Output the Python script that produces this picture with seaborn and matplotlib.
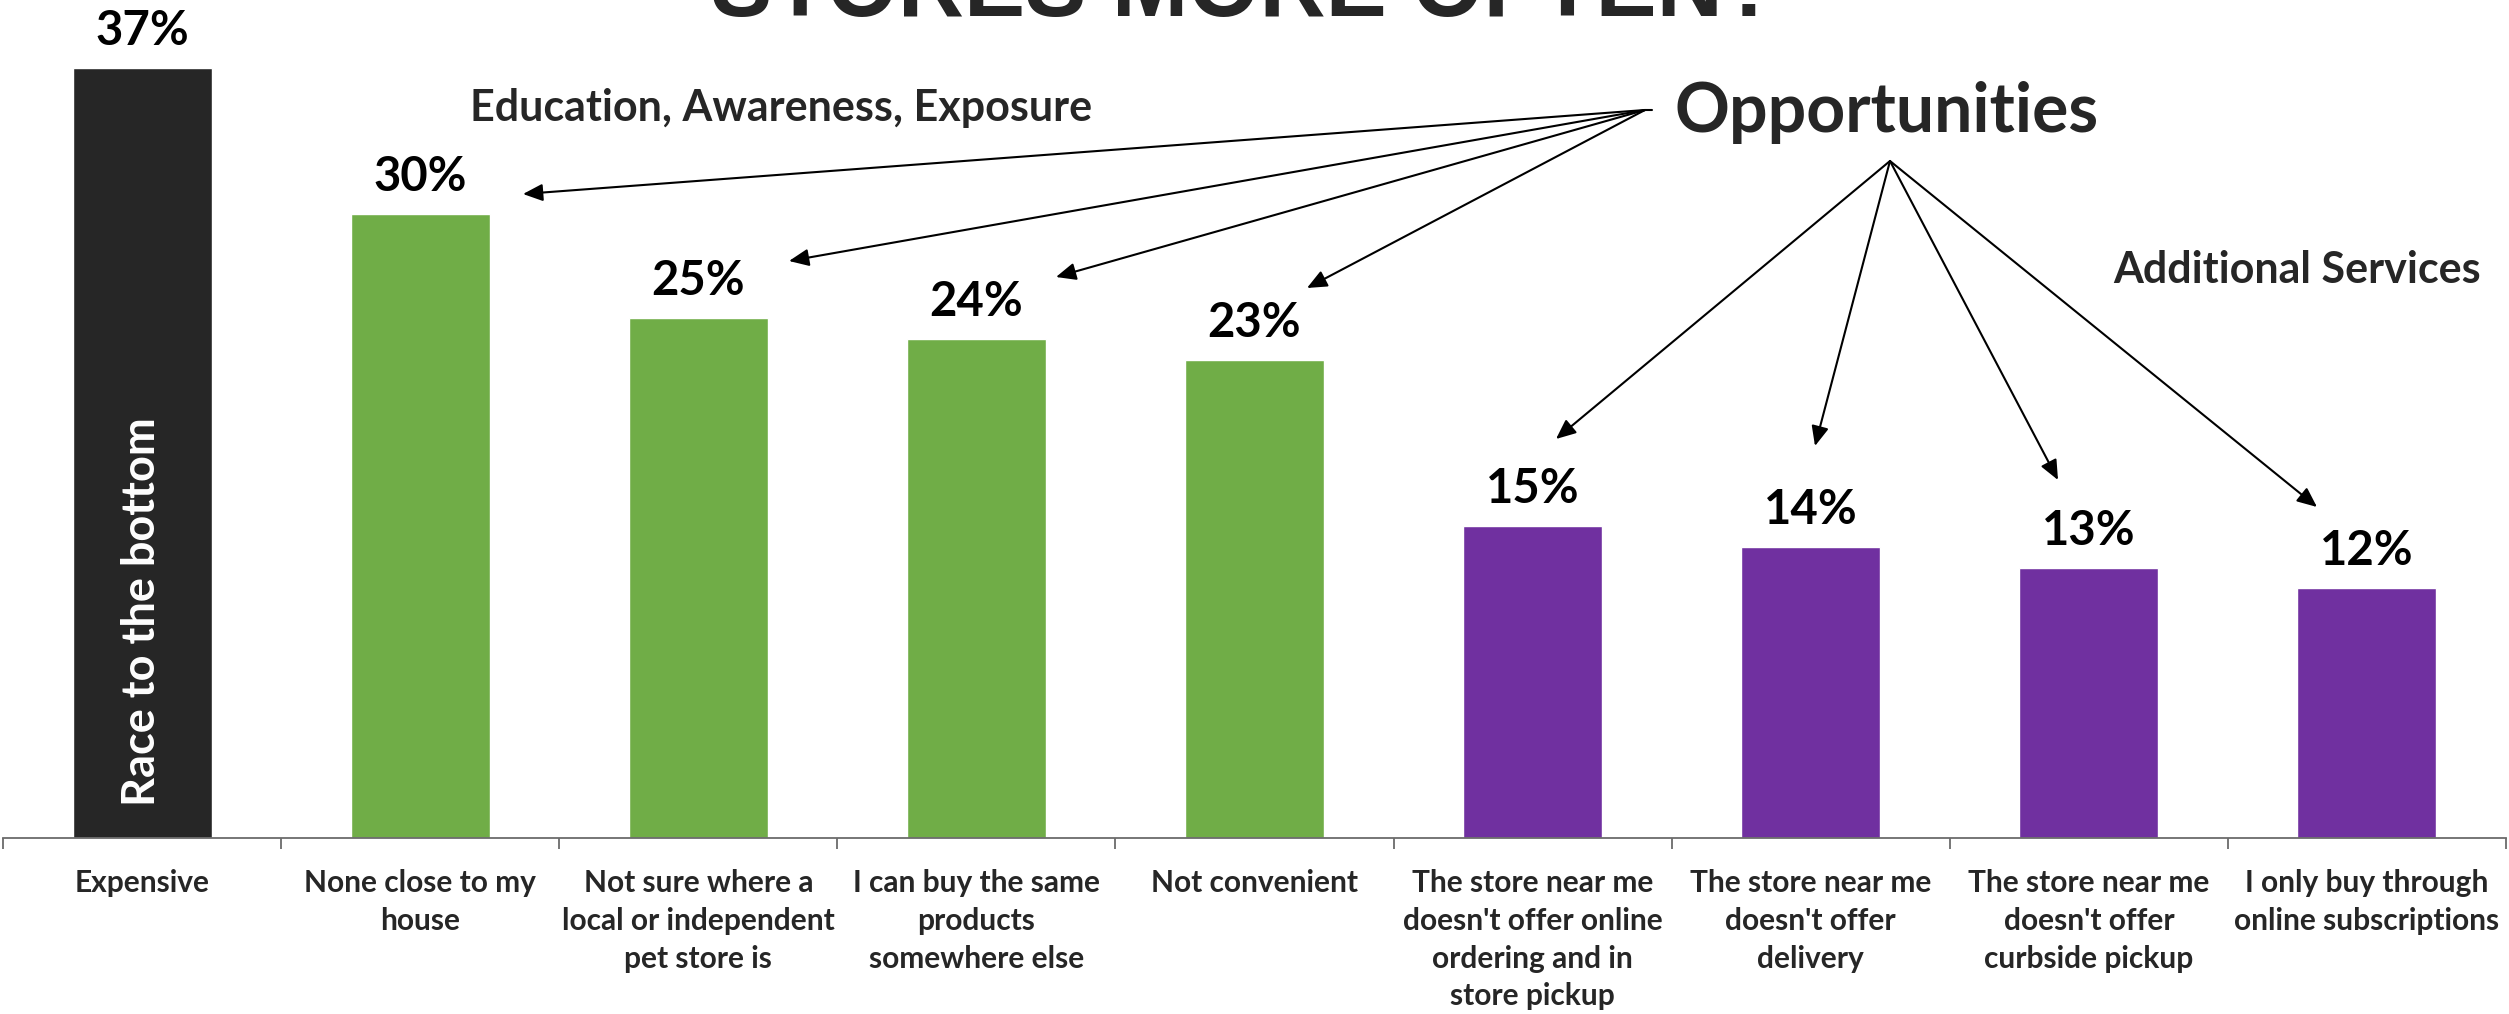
import matplotlib
matplotlib.use("Agg")
import matplotlib.pyplot as plt
import seaborn as sns
import pandas as pd

categories = [
    "Expensive",
    "None close to my\nhouse",
    "Not sure where a\nlocal or independent\npet store is",
    "I can buy the same\nproducts\nsomewhere else",
    "Not convenient",
    "The store near me\ndoesn't offer online\nordering and in\nstore pickup",
    "The store near me\ndoesn't offer\ndelivery",
    "The store near me\ndoesn't offer\ncurbside pickup",
    "I only buy through\nonline subscriptions",
]
values = [37, 30, 25, 24, 23, 15, 14, 13, 12]
value_labels = ["37%", "30%", "25%", "24%", "23%", "15%", "14%", "13%", "12%"]
bar_colors = ["#262626", "#70AD47", "#70AD47", "#70AD47", "#70AD47",
              "#7030A0", "#7030A0", "#7030A0", "#7030A0"]

title_text = "STORES MORE OFTEN?"
note_left = "Education, Awareness, Exposure"
note_center = "Opportunities"
note_right = "Additional Services"
bar_note = "Race to the bottom"

sns.set_theme(style="white")
plt.rcParams["font.family"] = ["Lato", "DejaVu Sans"]

W, H = 2509, 1014
fig = plt.figure(figsize=(W / 100, H / 100), dpi=100)
ax = fig.add_axes([3 / W, (H - 838) / H, 2503 / W, 838 / H])

df = pd.DataFrame({"cat": categories, "val": values})
sns.barplot(data=df, x="cat", y="val", hue="cat", palette=bar_colors,
            width=0.5, legend=False, ax=ax, saturation=1)

ax.set_xlim(-0.5, len(categories) - 0.5)
ax.set_ylim(0, 838 / 20.8)
ax.set_xlabel("")
ax.set_ylabel("")
ax.set_yticks([])
for s in ["top", "left", "right"]:
    ax.spines[s].set_visible(False)
ax.spines["bottom"].set_color("#6b6b6b")
ax.spines["bottom"].set_linewidth(1.3)

ax.set_xticks(range(len(categories)))
ax.set_xticklabels(categories, fontsize=21.5, fontweight="bold",
                   linespacing=1.42, va="top", ha="center")
ax.tick_params(axis="x", which="major", length=0, pad=22.5)
ax.set_xticks([i - 0.5 for i in range(len(categories) + 1)], minor=True)
ax.tick_params(axis="x", which="minor", length=8, width=1.3,
               color="#6b6b6b", direction="out", bottom=True)

# value labels
for i, (v, lab) in enumerate(zip(values, value_labels)):
    ax.annotate(lab, xy=(i, v), xytext=(0, 16.5), textcoords="offset points",
                ha="center", va="baseline", fontsize=34, fontweight="bold",
                color="black")

# text inside black bar
ax.text(0, 1.55, bar_note, rotation=90, ha="center", va="bottom",
        fontsize=32.5, fontweight="bold", color="white")

# title (clipped at top)
fig.text(1245 / W, 1 - 16 / H, title_text, ha="center", va="baseline",
         fontsize=66, fontweight="bold", family=["Liberation Sans", "DejaVu Sans"])

def fp(x, y):
    return (x, H - y)

fig.text(781 / W, 1 - 121 / H, note_left, ha="center", va="baseline",
         fontsize=31, fontweight="bold")
fig.text(2297 / W, 1 - 283 / H, note_right, ha="center", va="baseline",
         fontsize=31, fontweight="bold")
fig.text(1887 / W, 1 - 132 / H, note_center, ha="center", va="baseline",
         fontsize=49, fontweight="bold")

arrow_kw = dict(arrowstyle="-|>,head_length=0.8,head_width=0.35",
                mutation_scale=15, lw=1.5, color="black",
                shrinkA=0, shrinkB=0)

upper_origin = (1645, 110)
upper_tips = [(523, 194), (789, 261), (1056, 277), (1307, 288)]
lower_origin = (1890, 161)
lower_tips = [(1556, 439), (1815, 446), (2058, 480), (2317, 507)]

for t in upper_tips:
    ax.annotate("", xy=fp(*t), xycoords="figure pixels",
                xytext=fp(*upper_origin), textcoords="figure pixels",
                arrowprops=arrow_kw, annotation_clip=False)
for t in lower_tips:
    ax.annotate("", xy=fp(*t), xycoords="figure pixels",
                xytext=fp(*lower_origin), textcoords="figure pixels",
                arrowprops=arrow_kw, annotation_clip=False)
ax.annotate("", xy=fp(1652, 110), xycoords="figure pixels",
            xytext=fp(*upper_origin), textcoords="figure pixels",
            arrowprops=dict(arrowstyle="-", lw=1.5, color="black",
                            shrinkA=0, shrinkB=0), annotation_clip=False)

fig.savefig("out.png", dpi=100)
